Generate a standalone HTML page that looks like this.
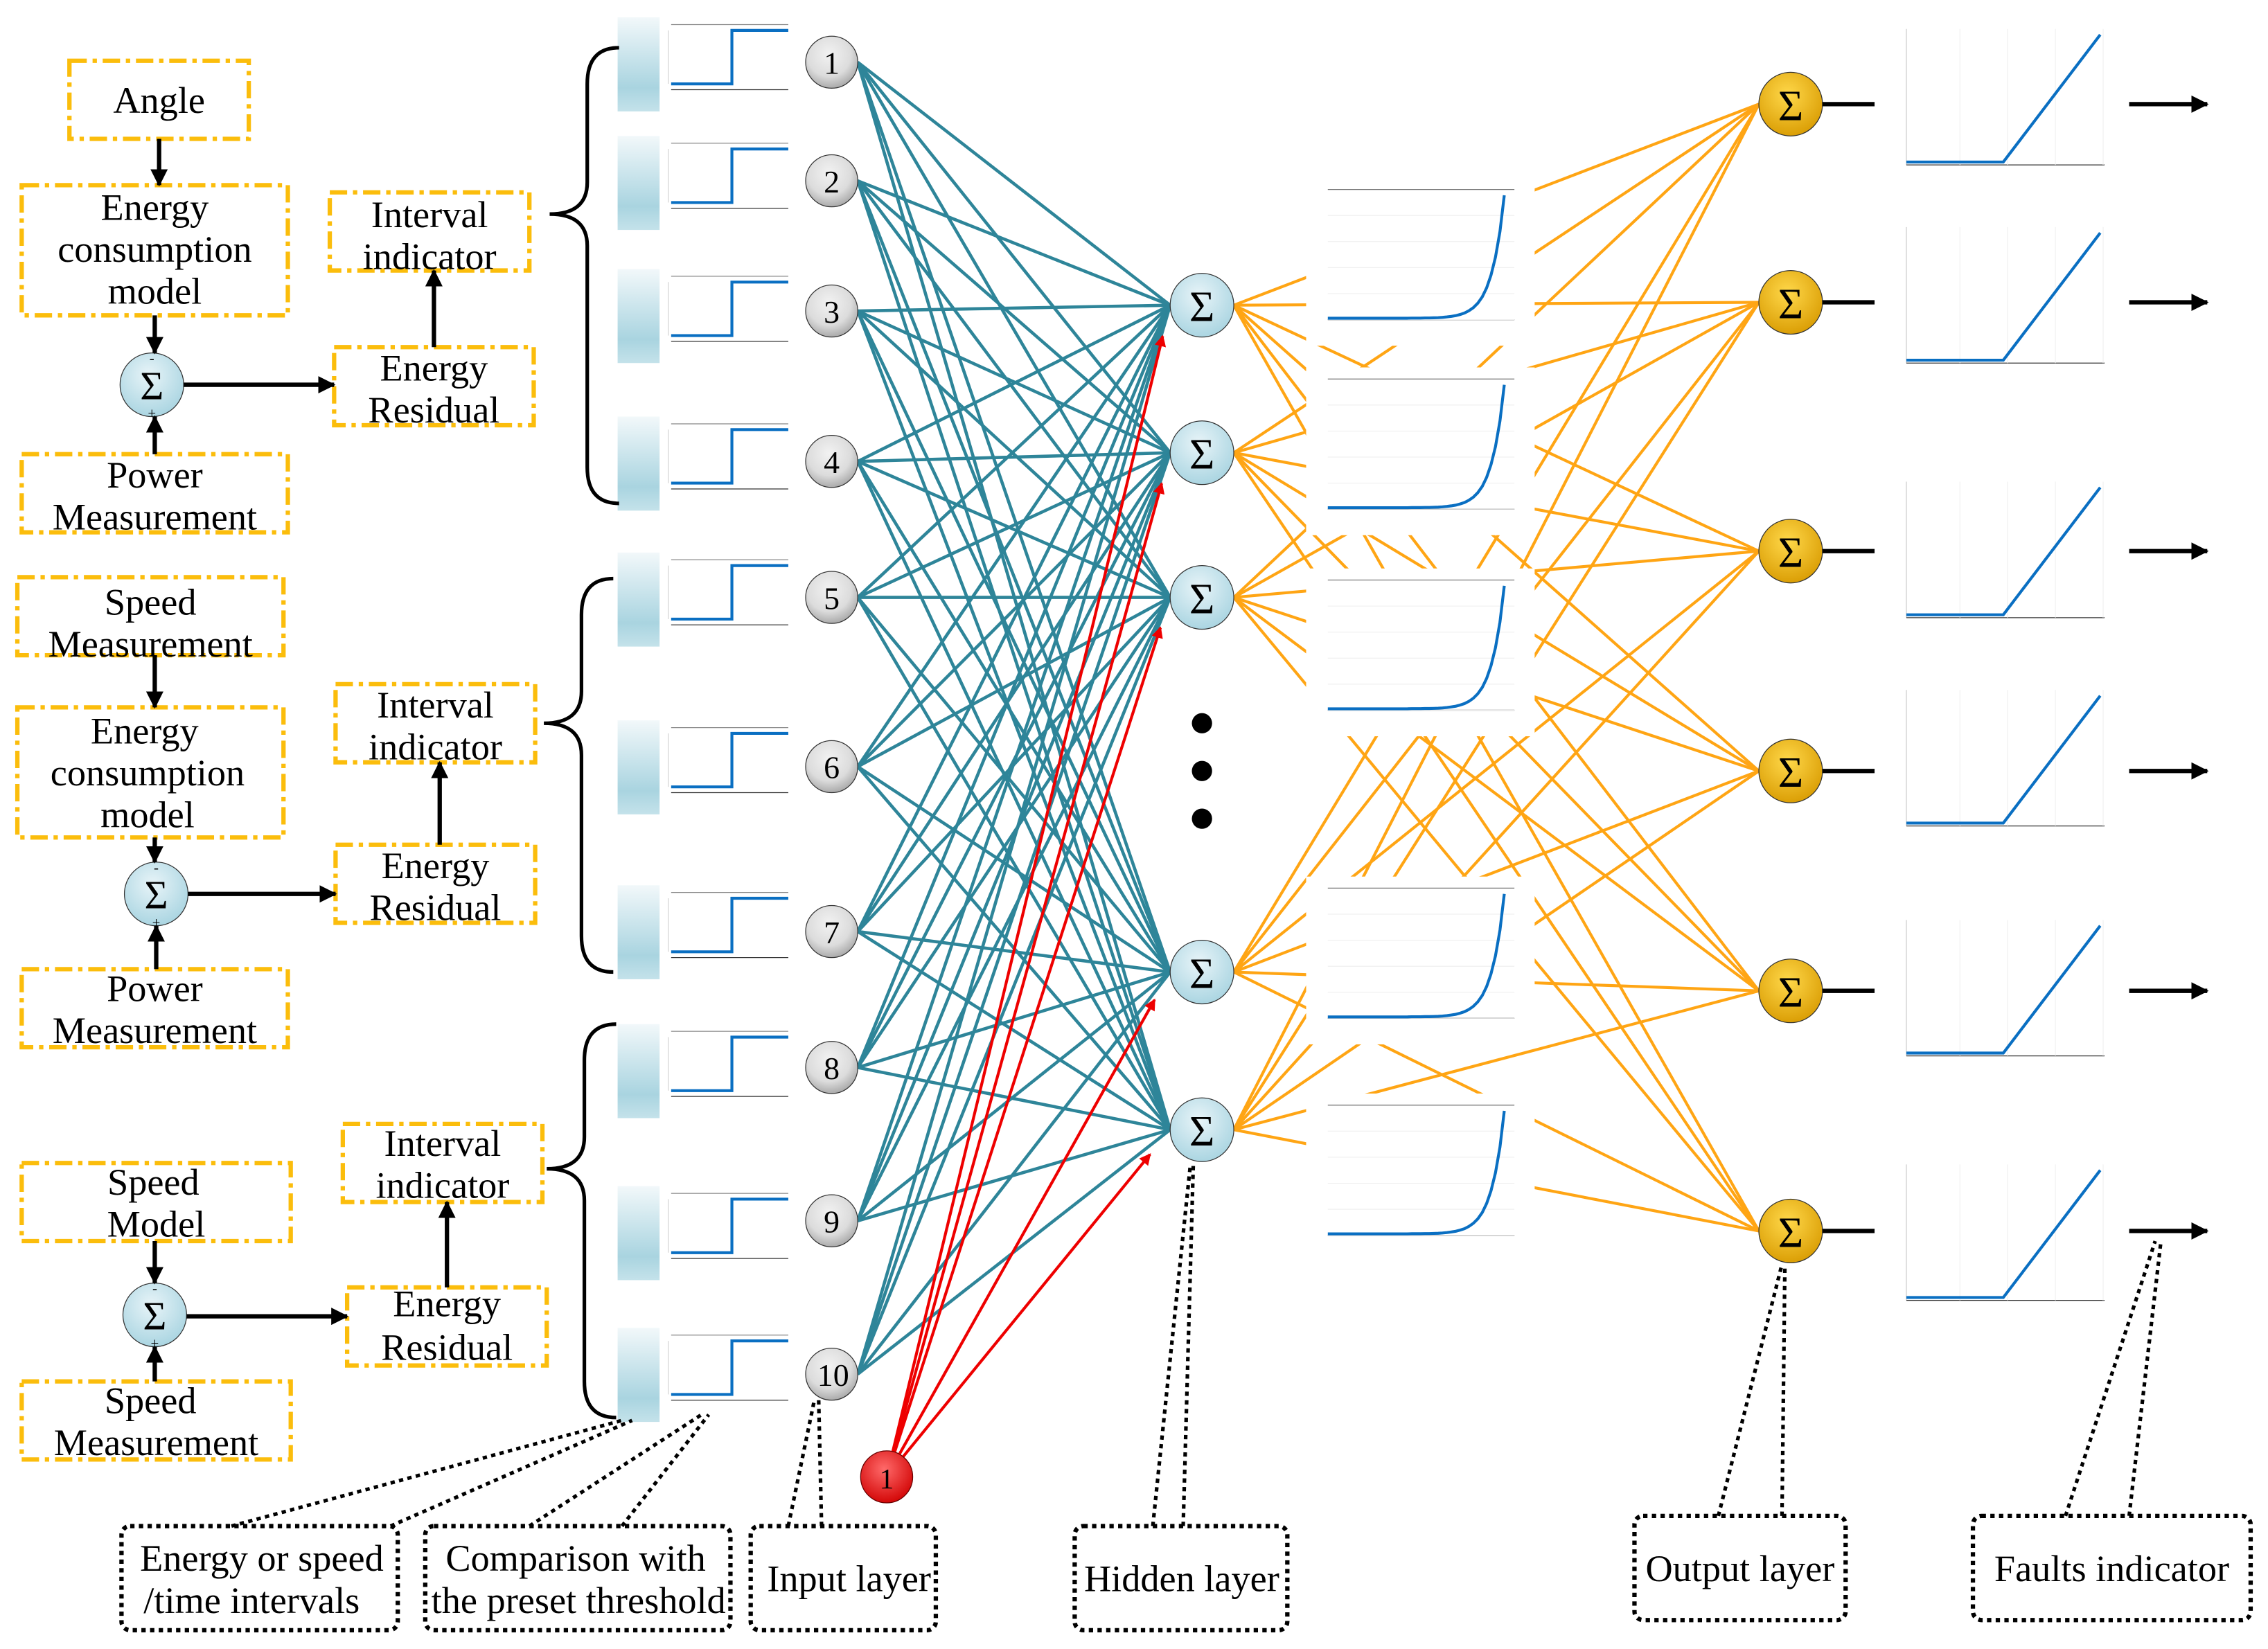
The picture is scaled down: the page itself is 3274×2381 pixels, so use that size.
<!DOCTYPE html>
<html><head><meta charset="utf-8"><style>
html,body{margin:0;padding:0;background:#fff}
svg{display:block}
text{font-family:"Liberation Serif",serif}
</style></head><body>
<svg id="s" width="3274" height="2381" viewBox="0 0 1568 1140" preserveAspectRatio="none" xmlns="http://www.w3.org/2000/svg">
<defs>
<linearGradient id="gb" x1="0" y1="0" x2="0" y2="1"><stop offset="0" stop-color="#f2f8fa"/><stop offset="0.75" stop-color="#a9d4e0"/><stop offset="1" stop-color="#c4e2ea"/></linearGradient>
<radialGradient id="gg" cx="0.45" cy="0.35" r="0.7"><stop offset="0" stop-color="#f2f2f2"/><stop offset="0.6" stop-color="#dcdcdc"/><stop offset="1" stop-color="#a0a0a0"/></radialGradient>
<radialGradient id="gl" cx="0.45" cy="0.35" r="0.7"><stop offset="0" stop-color="#e8f4f8"/><stop offset="1" stop-color="#a6d3e0"/></radialGradient>
<radialGradient id="gy" cx="0.45" cy="0.35" r="0.7"><stop offset="0" stop-color="#ffd84a"/><stop offset="1" stop-color="#d89a00"/></radialGradient>
<radialGradient id="gr" cx="0.45" cy="0.35" r="0.7"><stop offset="0" stop-color="#ff6a6a"/><stop offset="1" stop-color="#d00000"/></radialGradient>
<marker id="ar" markerWidth="8" markerHeight="8" refX="7" refY="4" orient="auto" markerUnits="userSpaceOnUse"><path d="M0,0 L8,4 L0,8 z" fill="#e00"/></marker>
<marker id="ab" markerWidth="12" markerHeight="12" refX="11" refY="6" orient="auto" markerUnits="userSpaceOnUse"><path d="M0,0 L12,6 L0,12 z" fill="#000"/></marker>
</defs>
<g id="lines"></g>
<g id="plots"></g>
<g id="fg"></g>

<g font-size="26" text-anchor="middle" fill="#000">
<text x="110" y="78">Angle</text>
<text x="107" y="152">Energy</text><text x="107" y="181">consumption</text><text x="107" y="210">model</text>
<text x="107" y="337">Power</text><text x="107" y="366">Measurement</text>
<text x="297" y="157">Interval</text><text x="297" y="186">indicator</text>
<text x="300" y="263">Energy</text><text x="300" y="292">Residual</text>
<text x="104" y="425">Speed</text><text x="104" y="454">Measurement</text>
<text x="100" y="514">Energy</text><text x="102" y="543">consumption</text><text x="102" y="572">model</text>
<text x="107" y="692">Power</text><text x="107" y="721">Measurement</text>
<text x="301" y="496">Interval</text><text x="301" y="525">indicator</text>
<text x="301" y="607">Energy</text><text x="301" y="636">Residual</text>
<text x="106" y="826">Speed</text><text x="108" y="855">Model</text>
<text x="104" y="977">Speed</text><text x="108" y="1006">Measurement</text>
<text x="306" y="799">Interval</text><text x="306" y="828">indicator</text>
<text x="309" y="910">Energy</text><text x="309" y="940">Residual</text>
<text x="181" y="1086">Energy or speed</text><text x="174" y="1115">/time intervals</text>
<text x="398" y="1086">Comparison with</text><text x="400" y="1115">the preset threshold</text>
<text x="587" y="1100">Input layer</text>
<text x="817" y="1100">Hidden layer</text>
<text x="1203" y="1093">Output layer</text>
<text x="1460" y="1093">Faults indicator</text>
</g>
<g id="nodetext" font-size="22" text-anchor="middle" fill="#000">
<text x="575" y="51">1</text><text x="575" y="133">2</text><text x="575" y="223">3</text><text x="575" y="327">4</text><text x="575" y="421">5</text><text x="575" y="538">6</text><text x="575" y="652">7</text><text x="575" y="746">8</text><text x="575" y="852">9</text><text x="576" y="958">10</text>
<text x="613" y="1029" font-size="20">1</text>
</g>
<g font-size="30" text-anchor="middle" fill="#000">
<text x="831" y="222">Σ</text><text x="831" y="324">Σ</text><text x="831" y="424">Σ</text><text x="831" y="683">Σ</text><text x="831" y="792">Σ</text>
<text x="1238" y="83">Σ</text><text x="1238" y="220">Σ</text><text x="1238" y="392">Σ</text><text x="1238" y="544">Σ</text><text x="1238" y="696">Σ</text><text x="1238" y="862">Σ</text>
<text x="105" y="276" font-size="28">Σ</text><text x="108" y="628" font-size="28">Σ</text><text x="107" y="919" font-size="28">Σ</text>
</g>
<g font-size="10" text-anchor="middle" fill="#000">
<text x="105" y="251">-</text><text x="105" y="289">+</text>
<text x="108" y="603">-</text><text x="108" y="641">+</text>
<text x="107" y="894">-</text><text x="107" y="932">+</text>
</g>
<script>
var NS="http://www.w3.org/2000/svg";
function el(p,t,a){var e=document.createElementNS(NS,t);for(var k in a)e.setAttribute(k,a[k]);document.getElementById(p).appendChild(e);return e;}
var inY=[43,125,215,319,413,530,644,738,844,950];
var hY=[211,313,413,672,781];
var oY=[72,209,381,533,685,851];
inY.forEach(function(y){hY.forEach(function(h){el("lines","line",{x1:593,y1:y,x2:809,y2:h,stroke:"#2e8599","stroke-width":2.2});});});
hY.forEach(function(h){oY.forEach(function(o){el("lines","line",{x1:853,y1:h,x2:1216,y2:o,stroke:"#ffa514","stroke-width":2});});});
hY.forEach(function(h){var dx=809-613,dy=h-1021,L=Math.sqrt(dx*dx+dy*dy);el("fg","line",{x1:613,y1:1021,x2:613+dx*(L-22)/L,y2:1021+dy*(L-22)/L,stroke:"#e00","stroke-width":2,"marker-end":"url(#ar)"});});
var sY=[12,94,186,288,382,498,612,708,820,918];
sY.forEach(function(y){
 el("plots","rect",{x:427,y:y,width:29,height:65,fill:"url(#gb)"});
 el("plots","rect",{x:462,y:y,width:86,height:50,fill:"#fff"});
 el("plots","line",{x1:464,y1:y+5,x2:545,y2:y+5,stroke:"#888","stroke-width":0.6});
 el("plots","line",{x1:464,y1:y+50,x2:545,y2:y+50,stroke:"#333","stroke-width":0.6});
 el("plots","polyline",{points:(464)+","+(y+46)+" 506,"+(y+46)+" 506,"+(y+9)+" 545,"+(y+9),fill:"none",stroke:"#0a6fc2","stroke-width":2});
 el("plots","line",{x1:462,y1:y+9,x2:462,y2:y+46,stroke:"#ccc","stroke-width":0.5});
});
var eY=[127,258,397,610,760];
eY.forEach(function(y){
 el("plots","rect",{x:903,y:y-4,width:158,height:116,fill:"#fff"});
 el("plots","line",{x1:918,y1:y+4,x2:1047,y2:y+4,stroke:"#777","stroke-width":0.6});
 el("plots","line",{x1:918,y1:y+94,x2:1047,y2:y+94,stroke:"#333","stroke-width":0.6});
 for(var i=0;i<5;i++)el("plots","line",{x1:918,y1:y+22+i*18,x2:1047,y2:y+22+i*18,stroke:"#eee","stroke-width":0.5});
 var pts=[];for(var t=0;t<=40;t++){var x=918+t*(122/40);var v=Math.exp((t/40)*14-14);pts.push(x.toFixed(1)+","+(y+93-v*85).toFixed(1));}
 el("plots","polyline",{points:pts.join(" "),fill:"none",stroke:"#0a6fc2","stroke-width":2});
});
var rY=[20,157,333,477,636,805];
rY.forEach(function(y){
 el("plots","rect",{x:1308,y:y-2,width:150,height:108,fill:"#fff"});
 el("plots","line",{x1:1318,y1:y,x2:1318,y2:y+94,stroke:"#ccc","stroke-width":0.6});
 el("plots","line",{x1:1318,y1:y+94,x2:1455,y2:y+94,stroke:"#333","stroke-width":0.6});
 for(var i=0;i<4;i++)el("plots","line",{x1:1355+i*33,y1:y,x2:1355+i*33,y2:y+94,stroke:"#eee","stroke-width":0.5});
 el("plots","polyline",{points:"1318,"+(y+92)+" 1385,"+(y+92)+" 1452,"+(y+4),fill:"none",stroke:"#0a6fc2","stroke-width":2});
});
inY.forEach(function(y){el("fg","circle",{cx:575,cy:y,r:18,fill:"url(#gg)",stroke:"#333","stroke-width":0.6});});
el("fg","circle",{cx:613,cy:1021,r:18,fill:"url(#gr)",stroke:"#600","stroke-width":0.6});
hY.forEach(function(y){el("fg","circle",{cx:831,cy:y,r:22,fill:"url(#gl)",stroke:"#333","stroke-width":0.6});});
[500,533,566].forEach(function(y){el("fg","circle",{cx:831,cy:y,r:7,fill:"#000"});});
oY.forEach(function(y){el("fg","circle",{cx:1238,cy:y,r:22,fill:"url(#gy)",stroke:"#333","stroke-width":0.6});
 el("fg","line",{x1:1260,y1:y,x2:1296,y2:y,stroke:"#000","stroke-width":3});
 el("fg","line",{x1:1472,y1:y,x2:1526,y2:y,stroke:"#000","stroke-width":3,"marker-end":"url(#ab)"});});
function box(x1,y1,x2,y2){el("fg","rect",{x:x1,y:y1,width:x2-x1,height:y2-y1,fill:"none",stroke:"#fbbd0c","stroke-width":3,"stroke-dasharray":"12,4,3,4"});}
[[48,42,172,96],[15,128,199,218],[15,314,199,368],[228,133,366,187],[231,240,369,294],
 [12,399,196,453],[12,489,196,579],[15,670,199,724],[232,473,370,527],[232,584,370,638],
 [15,804,201,858],[15,955,201,1009],[237,777,375,831],[240,890,378,944]].forEach(function(b){box.apply(null,b);});
[[105,266],[108,618],[107,909]].forEach(function(c){el("fg","circle",{cx:c[0],cy:c[1],r:22,fill:"url(#gl)",stroke:"#333","stroke-width":0.6});});
function arr(x1,y1,x2,y2){el("fg","line",{x1:x1,y1:y1,x2:x2,y2:y2,stroke:"#000","stroke-width":3,"marker-end":"url(#ab)"});}
arr(110,96,110,128);arr(107,218,107,244);arr(107,314,107,288);arr(127,266,231,266);arr(300,240,300,187);
arr(107,453,107,489);arr(107,579,107,596);arr(108,670,108,640);arr(130,618,232,618);arr(304,584,304,527);
arr(107,858,107,887);arr(107,955,107,931);arr(129,910,240,910);arr(309,890,309,831);
function brace(x,y1,ym,y2){el("fg","path",{d:"M"+(x+48)+","+y1+" Q"+(x+26)+","+y1+" "+(x+26)+","+(y1+25)+" L"+(x+26)+","+(ym-22)+" Q"+(x+26)+","+ym+" "+x+","+ym+" Q"+(x+26)+","+ym+" "+(x+26)+","+(ym+22)+" L"+(x+26)+","+(y2-25)+" Q"+(x+26)+","+y2+" "+(x+48)+","+y2,fill:"none",stroke:"#000","stroke-width":2.5});}
brace(380,33,148,348);brace(376,400,500,672);brace(378,708,808,980);
function db(x1,y1,x2,y2){el("fg","rect",{x:x1,y:y1,width:x2-x1,height:y2-y1,rx:6,fill:"none",stroke:"#000","stroke-width":3,"stroke-dasharray":"3,3"});}
db(84,1055,275,1127);db(294,1055,505,1127);db(519,1055,647,1127);db(743,1055,890,1127);db(1130,1048,1276,1120);db(1364,1048,1556,1120);
function dl(x1,y1,x2,y2){el("fg","line",{x1:x1,y1:y1,x2:x2,y2:y2,stroke:"#000","stroke-width":2.5,"stroke-dasharray":"3,3"});}
dl(160,1055,430,982);dl(270,1055,437,982);dl(366,1055,485,978);dl(430,1055,490,978);
dl(545,1055,563,968);dl(568,1055,566,968);dl(797,1055,823,805);dl(818,1055,825,805);
dl(1188,1048,1232,874);dl(1232,1048,1234,874);dl(1428,1048,1490,858);dl(1472,1048,1494,858);
</script>
</svg>
</body></html>
